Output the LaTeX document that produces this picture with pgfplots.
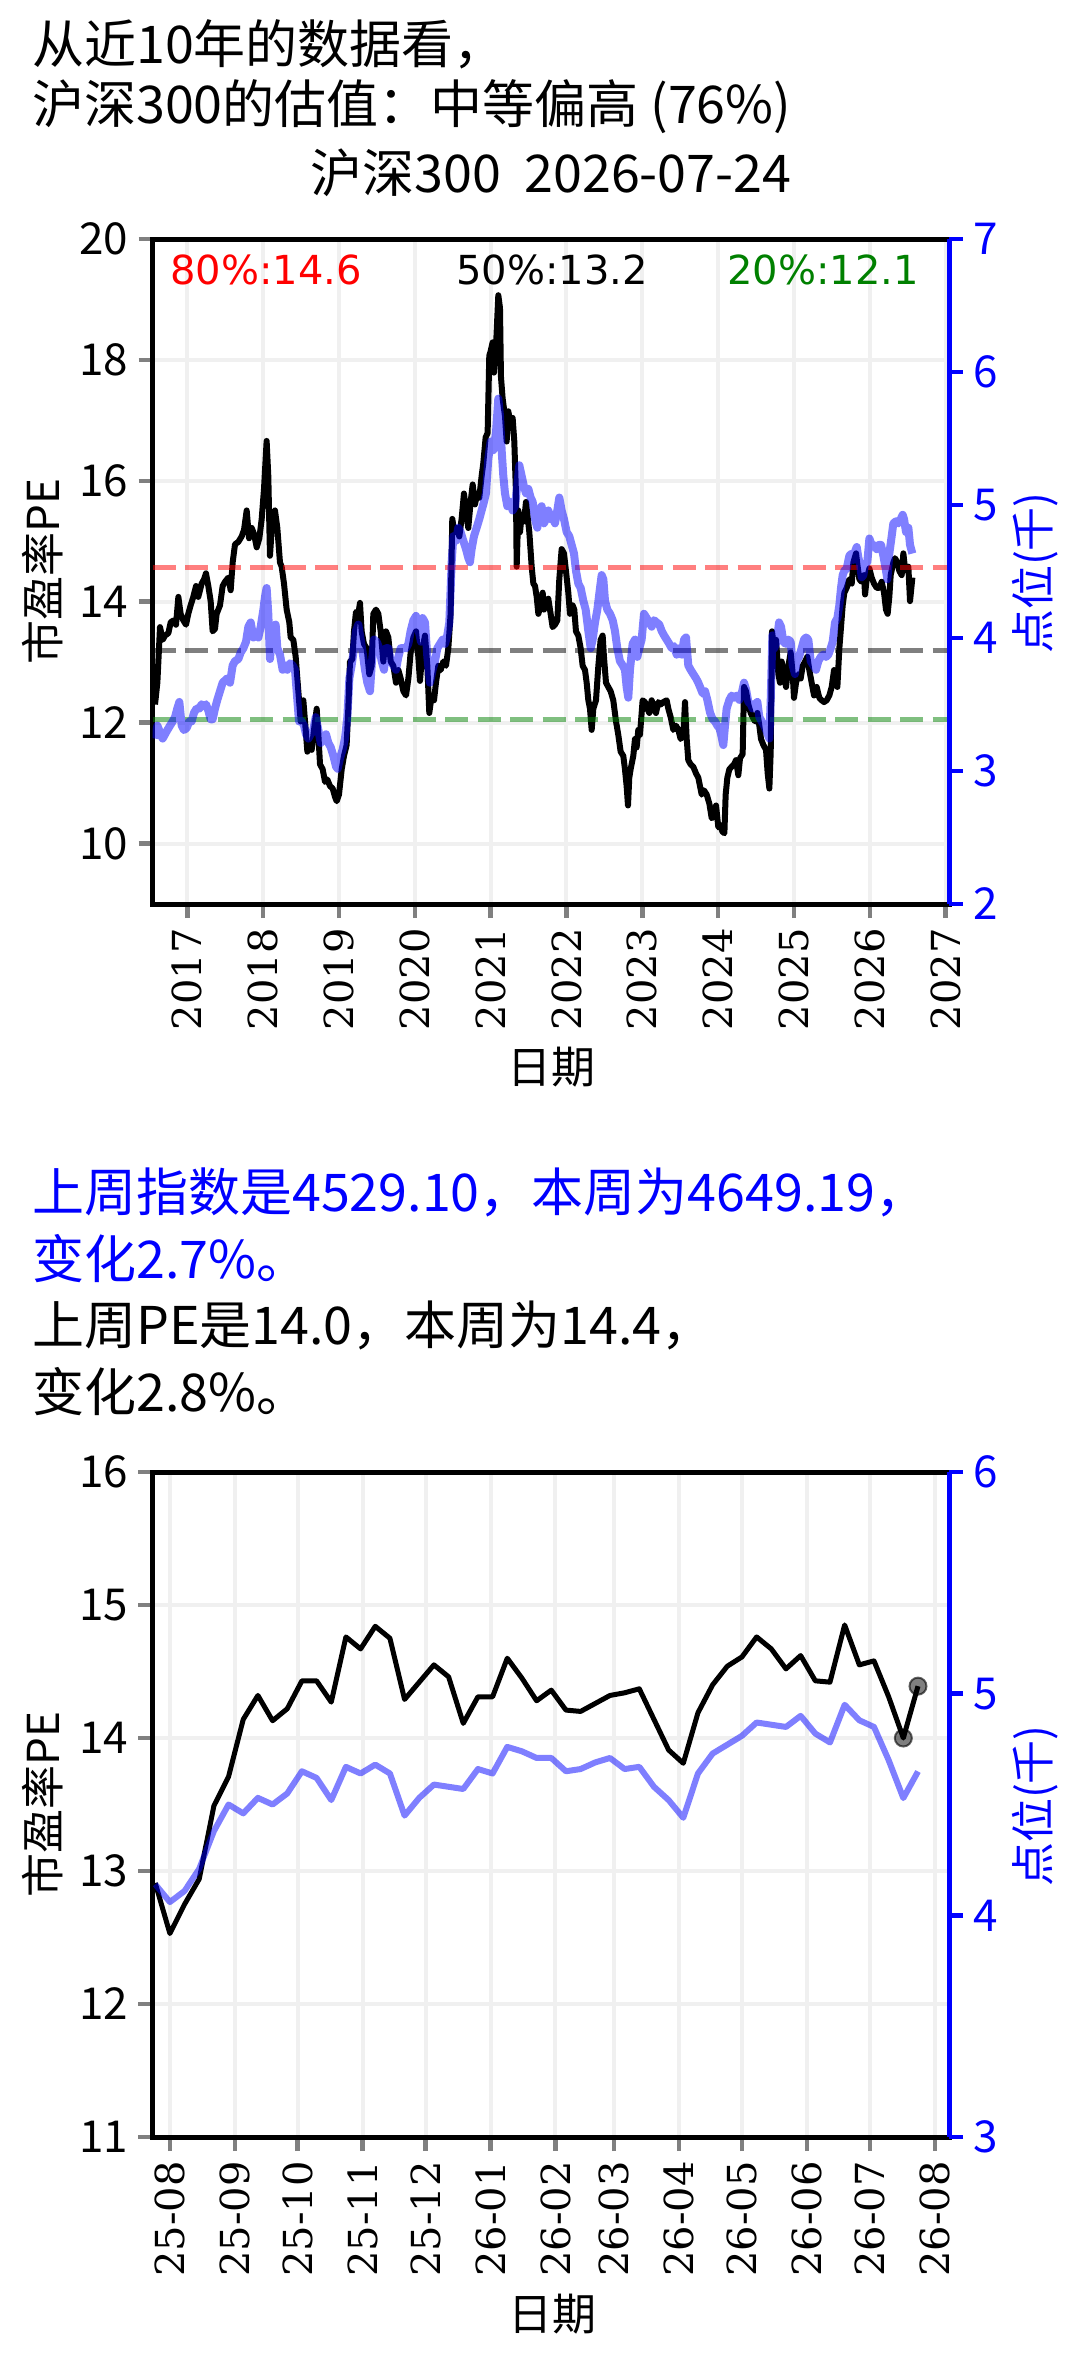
\documentclass[border=0pt]{standalone}
\usepackage{fontspec}
\setmainfont{Noto Sans CJK SC}
\newfontfamily\serifdv{DejaVu Serif}
\newfontfamily\sansdv{DejaVu Sans}
\usepackage{pgfplots}
\pgfplotsset{compat=1.18}
\usepackage{pgfplotstable}

\pgfplotstableread{
x y
2016.574 12.30
2016.605 12.66
2016.640 13.58
2016.675 13.37
2016.706 13.44
2016.750 13.48
2016.781 13.66
2016.816 13.69
2016.851 13.62
2016.882 14.08
2016.912 13.80
2016.948 13.69
2016.983 13.62
2017.013 13.80
2017.044 13.94
2017.079 14.08
2017.115 14.26
2017.145 14.08
2017.189 14.30
2017.220 14.37
2017.246 14.47
2017.277 14.26
2017.308 14.01
2017.334 13.51
2017.365 13.55
2017.387 13.80
2017.431 13.94
2017.466 14.26
2017.497 14.33
2017.541 14.40
2017.572 14.19
2017.598 14.65
2017.629 14.95
2017.673 14.99
2017.717 15.08
2017.748 15.19
2017.783 15.51
2017.814 15.05
2017.849 15.22
2017.880 15.12
2017.915 14.90
2017.950 15.05
2017.981 15.37
2018.011 15.86
2018.046 16.66
2018.068 16.08
2018.090 14.76
2018.126 15.44
2018.156 15.51
2018.187 15.22
2018.222 14.65
2018.244 14.58
2018.275 14.30
2018.310 13.87
2018.345 13.66
2018.363 13.41
2018.398 13.37
2018.429 13.09
2018.464 12.52
2018.495 12.02
2018.530 12.37
2018.561 11.88
2018.583 11.52
2018.609 11.66
2018.640 11.55
2018.671 11.88
2018.706 12.23
2018.728 11.80
2018.750 11.31
2018.785 11.23
2018.816 11.02
2018.846 11.06
2018.882 10.95
2018.917 10.91
2018.948 10.77
2018.970 10.70
2019.000 10.81
2019.036 11.23
2019.066 11.45
2019.101 11.63
2019.123 12.23
2019.145 13.01
2019.176 13.05
2019.198 13.51
2019.224 13.83
2019.255 13.80
2019.277 13.98
2019.299 13.51
2019.330 13.30
2019.365 13.23
2019.400 12.80
2019.431 12.94
2019.453 13.80
2019.488 13.87
2019.519 13.80
2019.550 13.51
2019.585 13.01
2019.620 13.51
2019.651 13.41
2019.682 13.01
2019.717 12.94
2019.752 12.66
2019.783 12.87
2019.814 12.73
2019.849 12.52
2019.884 12.45
2019.915 12.73
2019.945 13.16
2019.981 13.41
2020.016 13.51
2020.046 13.09
2020.068 12.69
2020.104 13.23
2020.134 13.44
2020.165 12.94
2020.191 12.16
2020.222 12.45
2020.253 12.37
2020.279 12.66
2020.310 12.94
2020.341 12.87
2020.376 13.01
2020.411 12.94
2020.442 13.23
2020.472 13.80
2020.494 15.37
2020.521 15.15
2020.552 15.22
2020.587 15.08
2020.617 15.37
2020.648 15.79
2020.675 15.51
2020.705 15.22
2020.736 15.65
2020.763 15.94
2020.793 15.61
2020.824 15.79
2020.850 15.72
2020.881 16.08
2020.903 16.29
2020.934 16.72
2020.960 16.79
2020.982 18.07
2020.999 18.14
2021.026 18.29
2021.044 17.79
2021.070 18.21
2021.101 19.07
2021.123 18.86
2021.136 17.72
2021.158 17.36
2021.189 17.07
2021.211 16.65
2021.233 17.15
2021.264 16.93
2021.290 17.04
2021.312 16.65
2021.334 15.79
2021.343 14.58
2021.365 15.51
2021.387 15.15
2021.409 15.44
2021.440 15.33
2021.466 15.65
2021.484 15.44
2021.510 15.15
2021.541 14.58
2021.563 14.30
2021.585 14.26
2021.607 14.08
2021.629 13.80
2021.659 13.94
2021.686 14.15
2021.703 13.87
2021.730 13.94
2021.760 14.05
2021.791 13.80
2021.817 13.58
2021.848 13.62
2021.879 13.69
2021.905 14.37
2021.936 14.87
2021.967 14.80
2021.993 14.51
2022.024 14.15
2022.046 13.80
2022.081 13.94
2022.103 13.87
2022.125 13.51
2022.156 13.44
2022.187 13.23
2022.213 12.94
2022.244 12.87
2022.266 12.66
2022.288 12.37
2022.310 12.23
2022.332 11.88
2022.354 12.23
2022.389 12.37
2022.420 12.94
2022.450 13.37
2022.477 13.44
2022.494 13.09
2022.521 12.66
2022.551 12.59
2022.582 12.52
2022.617 12.37
2022.653 12.02
2022.683 11.80
2022.714 11.52
2022.749 11.45
2022.771 11.23
2022.793 10.95
2022.811 10.63
2022.828 11.09
2022.846 11.23
2022.881 11.45
2022.903 11.73
2022.925 11.59
2022.947 11.88
2022.969 11.80
2023.004 12.37
2023.035 12.34
2023.066 12.23
2023.092 12.16
2023.123 12.37
2023.154 12.23
2023.180 12.16
2023.211 12.34
2023.242 12.30
2023.277 12.34
2023.321 12.37
2023.343 12.23
2023.374 12.09
2023.409 11.88
2023.444 11.95
2023.475 11.88
2023.505 11.73
2023.541 11.80
2023.563 12.34
2023.585 11.73
2023.606 11.38
2023.637 11.31
2023.672 11.27
2023.708 11.16
2023.738 11.09
2023.783 10.81
2023.813 10.88
2023.849 10.81
2023.884 10.66
2023.915 10.42
2023.945 10.45
2023.972 10.63
2024.002 10.27
2024.024 10.31
2024.055 10.20
2024.082 10.17
2024.099 10.81
2024.121 11.09
2024.148 11.23
2024.178 11.27
2024.209 11.31
2024.235 11.38
2024.266 11.13
2024.288 11.41
2024.323 11.48
2024.341 12.59
2024.367 12.52
2024.398 12.30
2024.429 12.16
2024.455 12.09
2024.486 12.02
2024.517 12.16
2024.543 11.95
2024.565 11.73
2024.596 11.63
2024.631 11.55
2024.653 11.16
2024.675 10.91
2024.693 11.52
2024.710 13.51
2024.737 13.23
2024.763 13.37
2024.794 12.80
2024.816 12.66
2024.838 13.01
2024.868 12.80
2024.895 12.59
2024.926 12.94
2024.956 13.16
2024.983 12.80
2025.000 12.41
2025.027 12.66
2025.057 12.80
2025.088 12.73
2025.115 12.94
2025.145 13.01
2025.176 13.09
2025.202 12.87
2025.233 12.66
2025.264 12.45
2025.299 12.59
2025.334 12.41
2025.365 12.37
2025.396 12.34
2025.431 12.37
2025.466 12.45
2025.497 12.59
2025.528 12.87
2025.554 12.80
2025.572 12.59
2025.598 13.23
2025.620 13.58
2025.642 13.94
2025.664 14.15
2025.695 14.23
2025.730 14.37
2025.761 14.30
2025.783 14.65
2025.818 14.80
2025.835 14.62
2025.862 14.37
2025.893 14.33
2025.923 14.44
2025.937 14.12
2025.958 14.37
2025.994 14.55
2026.024 14.40
2026.055 14.30
2026.090 14.23
2026.125 14.23
2026.156 14.33
2026.187 14.15
2026.213 13.87
2026.235 13.80
2026.257 14.08
2026.275 14.44
2026.310 14.65
2026.332 14.72
2026.363 14.65
2026.389 14.51
2026.420 14.44
2026.442 14.80
2026.464 14.55
2026.486 14.51
2026.508 14.58
2026.530 14.01
2026.561 14.40
}\topPE

\pgfplotstableread{
x y
2016.574 3.244
2016.605 3.341
2016.640 3.292
2016.675 3.244
2016.706 3.276
2016.737 3.308
2016.772 3.341
2016.807 3.373
2016.838 3.405
2016.868 3.470
2016.895 3.519
2016.926 3.341
2016.956 3.308
2016.992 3.324
2017.027 3.373
2017.057 3.373
2017.088 3.438
2017.123 3.470
2017.159 3.470
2017.189 3.502
2017.220 3.486
2017.246 3.502
2017.277 3.454
2017.308 3.389
2017.334 3.389
2017.365 3.470
2017.396 3.535
2017.431 3.600
2017.466 3.664
2017.497 3.681
2017.528 3.697
2017.563 3.664
2017.598 3.794
2017.629 3.826
2017.673 3.842
2017.704 3.891
2017.739 3.923
2017.774 3.972
2017.805 4.085
2017.836 4.117
2017.871 4.004
2017.906 4.020
2017.937 4.004
2017.968 4.085
2018.003 4.214
2018.025 4.312
2018.046 4.376
2018.068 4.182
2018.090 3.842
2018.112 3.988
2018.143 4.053
2018.165 4.101
2018.187 3.923
2018.222 3.875
2018.257 3.761
2018.288 3.794
2018.319 3.761
2018.354 3.810
2018.389 3.794
2018.420 3.761
2018.442 3.600
2018.473 3.373
2018.508 3.373
2018.539 3.341
2018.565 3.276
2018.596 3.244
2018.627 3.276
2018.662 3.308
2018.693 3.405
2018.728 3.308
2018.759 3.211
2018.794 3.244
2018.829 3.276
2018.860 3.211
2018.891 3.179
2018.926 3.114
2018.961 3.033
2018.983 3.017
2019.014 3.098
2019.049 3.163
2019.079 3.244
2019.110 3.405
2019.137 3.697
2019.167 3.794
2019.198 3.923
2019.224 4.053
2019.255 4.101
2019.277 4.020
2019.312 3.891
2019.343 3.761
2019.374 3.664
2019.409 3.600
2019.431 3.794
2019.462 3.988
2019.497 3.972
2019.532 3.923
2019.563 3.826
2019.594 3.761
2019.620 3.923
2019.651 3.923
2019.682 3.826
2019.717 3.794
2019.752 3.761
2019.783 3.858
2019.814 3.923
2019.849 3.923
2019.884 3.923
2019.915 3.956
2019.945 4.053
2019.981 4.133
2020.016 4.166
2020.046 4.069
2020.081 3.972
2020.103 4.150
2020.134 4.117
2020.165 3.858
2020.200 3.664
2020.235 3.761
2020.266 3.826
2020.297 3.923
2020.332 3.956
2020.367 3.988
2020.398 3.956
2020.428 4.020
2020.455 4.117
2020.486 4.570
2020.508 4.765
2020.543 4.732
2020.573 4.829
2020.604 4.797
2020.639 4.732
2020.675 4.668
2020.705 4.603
2020.727 4.570
2020.749 4.668
2020.780 4.765
2020.815 4.829
2020.850 4.894
2020.881 4.959
2020.912 5.024
2020.938 5.088
2020.969 5.347
2021.000 5.477
2021.035 5.412
2021.070 5.541
2021.101 5.800
2021.123 5.671
2021.145 5.412
2021.167 5.218
2021.189 5.088
2021.220 4.991
2021.255 5.024
2021.290 4.959
2021.321 4.991
2021.352 5.153
2021.378 5.299
2021.409 5.218
2021.440 5.137
2021.466 5.088
2021.497 5.121
2021.527 5.056
2021.554 5.024
2021.585 4.894
2021.615 4.829
2021.642 4.959
2021.672 4.991
2021.703 4.862
2021.730 4.894
2021.760 4.959
2021.791 4.894
2021.817 4.926
2021.848 4.862
2021.879 4.959
2021.905 5.056
2021.936 4.959
2021.967 4.894
2022.002 4.797
2022.037 4.765
2022.068 4.700
2022.099 4.635
2022.125 4.506
2022.156 4.409
2022.187 4.376
2022.222 4.279
2022.253 4.214
2022.288 4.053
2022.319 3.923
2022.345 3.988
2022.376 4.117
2022.407 4.214
2022.442 4.376
2022.464 4.473
2022.486 4.441
2022.508 4.279
2022.538 4.214
2022.574 4.182
2022.609 4.134
2022.639 4.053
2022.670 3.923
2022.705 3.826
2022.741 3.794
2022.771 3.761
2022.793 3.632
2022.815 3.551
2022.837 3.761
2022.872 3.956
2022.903 3.988
2022.934 3.858
2022.960 3.923
2022.991 3.988
2023.022 4.182
2023.057 4.150
2023.092 4.117
2023.123 4.085
2023.154 4.134
2023.189 4.117
2023.224 4.101
2023.255 4.053
2023.286 4.020
2023.321 3.988
2023.356 3.956
2023.387 3.923
2023.418 3.939
2023.453 3.875
2023.488 3.923
2023.519 3.875
2023.550 3.988
2023.576 4.004
2023.606 3.794
2023.637 3.761
2023.672 3.729
2023.708 3.697
2023.738 3.664
2023.761 3.632
2023.796 3.583
2023.827 3.600
2023.857 3.535
2023.893 3.438
2023.928 3.389
2023.959 3.373
2023.989 3.341
2024.016 3.324
2024.038 3.276
2024.068 3.195
2024.090 3.341
2024.112 3.470
2024.148 3.535
2024.178 3.567
2024.209 3.551
2024.244 3.567
2024.279 3.535
2024.310 3.583
2024.341 3.664
2024.367 3.616
2024.398 3.519
2024.429 3.502
2024.455 3.470
2024.486 3.502
2024.517 3.519
2024.543 3.405
2024.574 3.373
2024.605 3.341
2024.631 3.308
2024.653 3.276
2024.675 3.244
2024.693 3.535
2024.715 4.020
2024.741 3.923
2024.772 3.972
2024.803 4.117
2024.829 4.085
2024.860 3.972
2024.890 3.956
2024.926 3.988
2024.956 3.972
2024.983 3.794
2025.013 3.729
2025.035 3.826
2025.066 3.858
2025.101 3.923
2025.132 3.988
2025.159 4.004
2025.189 3.988
2025.220 3.826
2025.255 3.794
2025.290 3.761
2025.321 3.826
2025.352 3.858
2025.387 3.875
2025.422 3.858
2025.453 3.875
2025.484 3.923
2025.510 3.972
2025.541 4.117
2025.572 4.150
2025.598 4.247
2025.620 4.376
2025.642 4.473
2025.664 4.506
2025.695 4.522
2025.730 4.619
2025.761 4.635
2025.783 4.587
2025.805 4.651
2025.827 4.684
2025.849 4.603
2025.871 4.554
2025.893 4.457
2025.915 4.473
2025.937 4.554
2025.967 4.570
2025.994 4.748
2026.024 4.700
2026.055 4.700
2026.090 4.668
2026.121 4.700
2026.148 4.700
2026.178 4.619
2026.209 4.522
2026.231 4.441
2026.257 4.635
2026.288 4.765
2026.310 4.862
2026.345 4.878
2026.376 4.862
2026.407 4.894
2026.433 4.926
2026.451 4.894
2026.477 4.797
2026.508 4.829
2026.530 4.700
2026.561 4.635
}\topIdx

\pgfplotstableread{
x pe idx
-7 12.91 4.14
0 12.53 4.06
7 12.75 4.11
14 12.94 4.21
21 13.49 4.38
28 13.71 4.50
35 14.14 4.46
42 14.32 4.53
49 14.13 4.50
56 14.22 4.55
63 14.43 4.65
70 14.43 4.62
77 14.27 4.52
84 14.76 4.67
91 14.67 4.64
98 14.84 4.68
105 14.75 4.64
112 14.29 4.45
119 14.42 4.53
126 14.55 4.59
133 14.46 4.58
140 14.11 4.57
147 14.31 4.66
154 14.31 4.64
161 14.60 4.76
168 14.45 4.74
175 14.28 4.71
182 14.36 4.71
189 14.21 4.65
196 14.20 4.66
203 14.26 4.69
210 14.32 4.71
217 14.34 4.66
224 14.37 4.67
231 14.14 4.58
238 13.91 4.52
245 13.81 4.44
252 14.19 4.64
259 14.40 4.73
266 14.54 4.77
273 14.61 4.81
280 14.76 4.87
287 14.67 4.86
294 14.52 4.85
301 14.62 4.90
308 14.43 4.82
315 14.42 4.78
322 14.85 4.95
329 14.55 4.88
336 14.58 4.85
343 14.31 4.70
350 14.00 4.529
357 14.39 4.649
}\week

\pgfplotstableread{
x pe
350 14.00
357 14.39
}\lastwk

\pgfplotsset{
  base/.style={
    scale only axis, width=796.5pt, height=665pt,
    axis line style={line width=5pt},
    tick style={line width=4.5pt},
    major tick length=14pt,
    tick align=outside,
    /pgf/number format/assume math mode=true,
    xticklabel style={rotate=90, anchor=east, inner sep=0pt, font=\serifdv\fontsize{40}{48}\selectfont},
    yticklabel style={inner sep=0pt, font=\fontsize{44}{52}\selectfont},
    xticklabel shift=10pt,
    yticklabel shift=10pt,
  },
  leftax/.style={base, xtick pos=bottom, ytick pos=left,
    grid=major, major grid style={line width=4pt, black!6}},
  rightax/.style={base, axis x line=none, axis y line*=right,
    y axis line style={draw=blue, line width=5pt},
    tick style={draw=blue, line width=4.5pt},
    yticklabel style={text=blue}},
}

\begin{document}
\begin{tikzpicture}
\path[use as bounding box] (0pt,0pt) rectangle (1080pt,-2357pt);

\node[anchor=base west, inner sep=0pt, font=\fontsize{52}{62}\selectfont] at (32pt,-64pt) {从近10年的数据看，};
\node[anchor=base west, inner sep=0pt, font=\fontsize{52}{62}\selectfont] at (32pt,-124pt) {沪深300的估值：中等偏高 (76\%)};
\node[anchor=base, inner sep=0pt, font=\fontsize{52}{62}\selectfont] at (551pt,-193pt) {沪深300\hspace{0.45em}2026-07-24};

% ---------- top chart ----------
\begin{axis}[leftax, at={(152.5pt,-239pt)}, anchor=north west,
  xmin=2016.541, xmax=2027.044, ymin=9, ymax=20,
  xtick={2017,2018,2019,2020,2021,2022,2023,2024,2025,2026,2027},
  xticklabels={2017,2018,2019,2020,2021,2022,2023,2024,2025,2026,2027},
  ytick={10,12,14,16,18,20}, yticklabels={10,12,14,16,18,20}]
\addplot[black, line width=6pt, line join=round] table[x=x,y=y] {\topPE};
\addplot[red, opacity=0.5, line width=5pt, dash pattern=on 23pt off 9.5pt] coordinates {(2016.541,14.57) (2027.044,14.57)};
\addplot[black, opacity=0.5, line width=5pt, dash pattern=on 23pt off 9.5pt] coordinates {(2016.541,13.19) (2027.044,13.19)};
\addplot[green!50!black, opacity=0.5, line width=5pt, dash pattern=on 23pt off 9.5pt] coordinates {(2016.541,12.06) (2027.044,12.06)};
\end{axis}
\begin{axis}[rightax, at={(152.5pt,-239pt)}, anchor=north west,
  xmin=2016.541, xmax=2027.044, ymin=2, ymax=7,
  ytick={2,3,4,5,6,7}, yticklabels={2,3,4,5,6,7}]
\addplot[blue, opacity=0.5, line width=8pt, line join=round] table[x=x,y=y] {\topIdx};
\end{axis}

\node[anchor=base west, inner sep=0pt, text=red, font=\sansdv\fontsize{40}{48}\selectfont] at (170pt,-284pt) {80\%:14.6};
\node[anchor=base, inner sep=0pt, text=black, font=\sansdv\fontsize{40}{48}\selectfont] at (552pt,-284pt) {50\%:13.2};
\node[anchor=base east, inner sep=0pt, text=green!50!black, font=\sansdv\fontsize{40}{48}\selectfont] at (919pt,-284pt) {20\%:12.1};

\node[rotate=90, inner sep=0pt, font=\fontsize{44}{52}\selectfont] at (42.5pt,-571.5pt) {市盈率PE};
\node[rotate=90, inner sep=0pt, text=blue, font=\fontsize{44}{52}\selectfont] at (1035pt,-573pt) {点位(千)};
\node[inner sep=0pt, font=\fontsize{44}{52}\selectfont] at (551pt,-1067pt) {日期};

% ---------- middle text ----------
\node[anchor=base west, inner sep=0pt, text=blue, font=\fontsize{52}{62}\selectfont] at (32pt,-1211pt) {上周指数是4529.10，本周为4649.19，};
\node[anchor=base west, inner sep=0pt, text=blue, font=\fontsize{52}{62}\selectfont] at (32pt,-1278pt) {变化2.7\%。};
\node[anchor=base west, inner sep=0pt, font=\fontsize{52}{62}\selectfont] at (32pt,-1344pt) {上周PE是14.0，本周为14.4，};
\node[anchor=base west, inner sep=0pt, font=\fontsize{52}{62}\selectfont] at (32pt,-1411pt) {变化2.8\%。};

% ---------- bottom chart ----------
\begin{axis}[leftax, at={(152.5pt,-1472pt)}, anchor=north west,
  xmin=-8.3, xmax=371.8, ymin=11, ymax=16,
  xtick={0,31,61,92,122,153,184,212,243,273,304,334,365},
  xticklabels={25-08,25-09,25-10,25-11,25-12,26-01,26-02,26-03,26-04,26-05,26-06,26-07,26-08},
  ytick={11,12,13,14,15,16}, yticklabels={11,12,13,14,15,16}]
\addplot[black, line width=5pt, line join=round] table[x=x,y=pe] {\week};
\addplot[only marks, mark=*, mark size=8.5pt, mark options={fill=black, fill opacity=0.5, draw=black, draw opacity=0.6, line width=2pt}] table[x=x,y=pe] {\lastwk};
\end{axis}
\begin{axis}[rightax, at={(152.5pt,-1472pt)}, anchor=north west,
  xmin=-8.3, xmax=371.8, ymin=3, ymax=6,
  ytick={3,4,5,6}, yticklabels={3,4,5,6}]
\addplot[blue, opacity=0.5, line width=6pt, line join=round] table[x=x,y=idx] {\week};
\end{axis}

\node[rotate=90, inner sep=0pt, font=\fontsize{44}{52}\selectfont] at (42.5pt,-1804.5pt) {市盈率PE};
\node[rotate=90, inner sep=0pt, text=blue, font=\fontsize{44}{52}\selectfont] at (1035pt,-1806pt) {点位(千)};
\node[inner sep=0pt, font=\fontsize{44}{52}\selectfont] at (552pt,-2314pt) {日期};
\end{tikzpicture}
\end{document}
